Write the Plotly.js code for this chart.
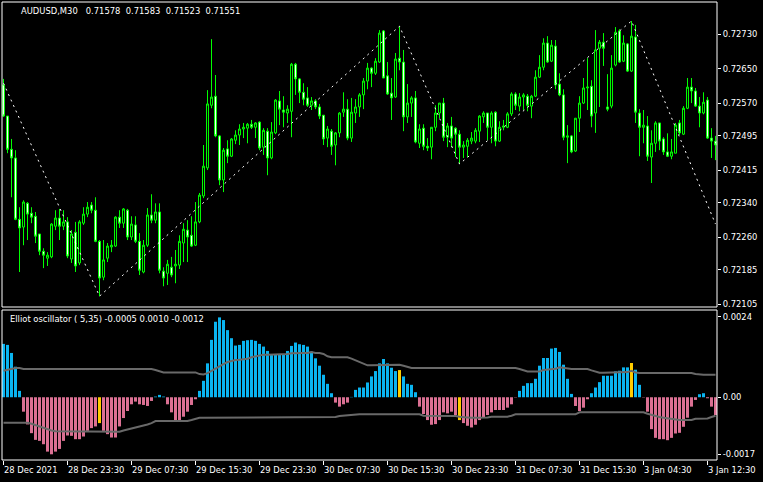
<!DOCTYPE html>
<html><head><meta charset="utf-8">
<script src="https://cdn.plot.ly/plotly-3.0.1.min.js"></script>
<style>html,body{margin:0;padding:0;background:#000;}#chart{width:763px;height:482px;}</style>
</head><body><div id="chart"></div>
<script>
// ---- data ----
const timeTickPos = [0,16,32,48,64,80,96,112,128,144,160,176];
const timeTickLabels = ["28 Dec 2021","28 Dec 23:30","29 Dec 07:30","29 Dec 15:30","29 Dec 23:30","30 Dec 07:30","30 Dec 15:30","30 Dec 23:30","31 Dec 07:30","31 Dec 15:30","3 Jan 04:30","3 Jan 12:30"];
const priceTicks = [0.72730,0.72650,0.72570,0.72495,0.72415,0.72340,0.72260,0.72185,0.72105];
const priceTickLabels = ["0.72730","0.72650","0.72570","0.72495","0.72415","0.72340","0.72260","0.72185","0.72105"];
const oscTicks = [0.0024,0,-0.0017];
const oscTickLabels = ["0.0024","0.00","-0.0017"];

const openP = [0.72613,0.72541,0.72464,0.72444,0.72302,0.72284,0.72339,0.72316,0.72309,0.72268,
0.72228,0.72212,0.72215,0.72286,0.72305,0.72286,0.72296,0.72210,0.72272,0.72201,
0.72293,0.72314,0.72335,0.72323,0.72251,0.72168,0.72212,0.72238,0.72240,0.72307,
0.72293,0.72323,0.72261,0.72289,0.72251,0.72180,0.72242,0.72312,0.72300,0.72319,
0.72182,0.72177,0.72191,0.72194,0.72196,0.72247,0.72277,0.72265,0.72242,0.72296,
0.72356,0.72421,0.72566,0.72587,0.72495,0.72393,0.72465,0.72448,0.72485,0.72497,
0.72511,0.72513,0.72522,0.72515,0.72527,0.72469,0.72506,0.72444,0.72502,0.72576,
0.72555,0.72548,0.72552,0.72661,0.72627,0.72596,0.72583,0.72566,0.72576,0.72562,
0.72543,0.72490,0.72506,0.72474,0.72502,0.72550,0.72557,0.72490,0.72548,0.72562,
0.72590,0.72622,0.72652,0.72640,0.72666,0.72738,0.72634,0.72594,0.72585,0.72675,
0.72666,0.72539,0.72571,0.72583,0.72478,0.72513,0.72471,0.72469,0.72515,0.72548,
0.72571,0.72492,0.72518,0.72513,0.72499,0.72469,0.72471,0.72483,0.72483,0.72506,
0.72539,0.72548,0.72515,0.72550,0.72483,0.72515,0.72515,0.72546,0.72592,0.72564,
0.72585,0.72587,0.72564,0.72587,0.72631,0.72654,0.72710,0.72668,0.72703,0.72615,
0.72590,0.72492,0.72495,0.72460,0.72536,0.72571,0.72606,0.72610,0.72548,0.72698,
0.72712,0.72562,0.72564,0.72659,0.72738,0.72668,0.72708,0.72645,0.72724,0.72548,
0.72515,0.72518,0.72446,0.72478,0.72525,0.72488,0.72458,0.72448,0.72455,0.72525,
0.72499,0.72559,0.72608,0.72599,0.72564,0.72548,0.72578,0.72490,0.72483];
const highP = [0.72627,0.72541,0.72488,0.72462,0.72330,0.72346,0.72342,0.72330,0.72319,0.72268,
0.72235,0.72226,0.72293,0.72323,0.72326,0.72323,0.72307,0.72277,0.72296,0.72300,
0.72330,0.72342,0.72342,0.72353,0.72254,0.72254,0.72247,0.72254,0.72309,0.72323,
0.72328,0.72326,0.72309,0.72309,0.72270,0.72254,0.72328,0.72360,0.72339,0.72339,
0.72191,0.72208,0.72215,0.72231,0.72265,0.72293,0.72300,0.72309,0.72342,0.72363,
0.72474,0.72601,0.72719,0.72636,0.72497,0.72467,0.72485,0.72490,0.72508,0.72522,
0.72525,0.72525,0.72532,0.72527,0.72529,0.72513,0.72513,0.72527,0.72580,0.72599,
0.72587,0.72566,0.72664,0.72664,0.72629,0.72617,0.72608,0.72585,0.72580,0.72569,
0.72543,0.72518,0.72511,0.72504,0.72550,0.72596,0.72580,0.72583,0.72580,0.72594,
0.72629,0.72664,0.72654,0.72675,0.72740,0.72740,0.72666,0.72629,0.72687,0.72749,
0.72694,0.72615,0.72587,0.72599,0.72522,0.72522,0.72490,0.72515,0.72566,0.72571,
0.72583,0.72525,0.72539,0.72515,0.72508,0.72483,0.72490,0.72504,0.72513,0.72543,
0.72552,0.72548,0.72552,0.72552,0.72529,0.72532,0.72550,0.72596,0.72596,0.72594,
0.72594,0.72592,0.72590,0.72647,0.72682,0.72721,0.72726,0.72717,0.72717,0.72640,
0.72603,0.72520,0.72497,0.72536,0.72587,0.72629,0.72675,0.72624,0.72740,0.72717,
0.72733,0.72638,0.72682,0.72747,0.72742,0.72728,0.72710,0.72761,0.72752,0.72557,
0.72555,0.72541,0.72508,0.72529,0.72525,0.72492,0.72501,0.72488,0.72525,0.72532,
0.72564,0.72629,0.72629,0.72606,0.72585,0.72596,0.72585,0.72513,0.72495];
const lowP = [0.72539,0.72455,0.72353,0.72300,0.72180,0.72242,0.72254,0.72293,0.72247,0.72219,
0.72189,0.72194,0.72212,0.72277,0.72254,0.72277,0.72212,0.72201,0.72180,0.72196,
0.72289,0.72307,0.72316,0.72249,0.72124,0.72161,0.72203,0.72226,0.72238,0.72282,
0.72282,0.72254,0.72254,0.72247,0.72173,0.72177,0.72238,0.72293,0.72293,0.72177,
0.72147,0.72150,0.72168,0.72154,0.72187,0.72203,0.72203,0.72238,0.72240,0.72293,
0.72351,0.72416,0.72559,0.72492,0.72381,0.72365,0.72432,0.72446,0.72476,0.72474,
0.72490,0.72478,0.72511,0.72490,0.72462,0.72451,0.72404,0.72441,0.72499,0.72520,
0.72515,0.72525,0.72492,0.72590,0.72571,0.72566,0.72562,0.72555,0.72557,0.72534,
0.72474,0.72469,0.72451,0.72427,0.72492,0.72539,0.72485,0.72481,0.72525,0.72539,
0.72557,0.72603,0.72608,0.72636,0.72664,0.72629,0.72590,0.72532,0.72583,0.72647,
0.72506,0.72525,0.72539,0.72478,0.72467,0.72462,0.72460,0.72441,0.72506,0.72536,
0.72483,0.72469,0.72469,0.72446,0.72430,0.72444,0.72446,0.72476,0.72478,0.72481,
0.72525,0.72485,0.72478,0.72471,0.72481,0.72508,0.72513,0.72541,0.72555,0.72552,
0.72555,0.72552,0.72536,0.72585,0.72629,0.72647,0.72664,0.72666,0.72603,0.72587,
0.72485,0.72432,0.72455,0.72458,0.72504,0.72569,0.72555,0.72515,0.72502,0.72562,
0.72657,0.72552,0.72559,0.72656,0.72664,0.72666,0.72643,0.72643,0.72525,0.72448,
0.72478,0.72437,0.72386,0.72458,0.72462,0.72451,0.72446,0.72441,0.72455,0.72497,
0.72497,0.72557,0.72571,0.72562,0.72515,0.72545,0.72488,0.72444,0.72439];
const closeP = [0.72541,0.72464,0.72444,0.72302,0.72282,0.72342,0.72314,0.72307,0.72263,0.72228,
0.72219,0.72219,0.72291,0.72305,0.72286,0.72296,0.72217,0.72268,0.72194,0.72296,
0.72314,0.72330,0.72323,0.72251,0.72166,0.72208,0.72240,0.72242,0.72307,0.72293,
0.72326,0.72261,0.72291,0.72251,0.72184,0.72242,0.72312,0.72300,0.72319,0.72184,
0.72166,0.72198,0.72173,0.72198,0.72251,0.72279,0.72261,0.72240,0.72296,0.72358,
0.72425,0.72569,0.72585,0.72495,0.72393,0.72462,0.72448,0.72488,0.72497,0.72511,
0.72515,0.72522,0.72515,0.72525,0.72467,0.72508,0.72444,0.72504,0.72578,0.72557,
0.72550,0.72557,0.72661,0.72627,0.72596,0.72580,0.72566,0.72576,0.72562,0.72541,
0.72488,0.72511,0.72471,0.72502,0.72548,0.72557,0.72490,0.72550,0.72562,0.72590,
0.72622,0.72652,0.72640,0.72668,0.72733,0.72629,0.72592,0.72583,0.72673,0.72666,
0.72539,0.72571,0.72583,0.72481,0.72511,0.72471,0.72467,0.72515,0.72548,0.72571,
0.72492,0.72518,0.72490,0.72499,0.72469,0.72474,0.72485,0.72490,0.72508,0.72541,
0.72548,0.72515,0.72548,0.72483,0.72515,0.72518,0.72546,0.72592,0.72566,0.72585,
0.72590,0.72566,0.72587,0.72631,0.72654,0.72710,0.72666,0.72705,0.72613,0.72590,
0.72492,0.72495,0.72458,0.72536,0.72571,0.72606,0.72608,0.72541,0.72694,0.72712,
0.72698,0.72557,0.72652,0.72735,0.72666,0.72710,0.72645,0.72726,0.72550,0.72515,
0.72520,0.72448,0.72478,0.72525,0.72483,0.72458,0.72448,0.72458,0.72520,0.72502,
0.72559,0.72608,0.72599,0.72564,0.72548,0.72573,0.72490,0.72483,0.72474];

const zigzagIdx = [0,24,99,114,157,178];
const zigzagVal = [0.72617,0.72124,0.72749,0.72430,0.72761,0.72291];

const oscVal = [0.00159,0.00156,0.00132,0.00091,0.00019,-0.00043,-0.00081,-0.00107,-0.00127,-0.00130,
-0.00140,-0.00162,-0.00170,-0.00162,-0.00154,-0.00130,-0.00114,-0.00115,-0.00125,-0.00125,
-0.00117,-0.00100,-0.00092,-0.00087,-0.00077,-0.00100,-0.00110,-0.00120,-0.00120,-0.00087,
-0.00062,-0.00041,-0.00021,-0.00013,-0.00021,-0.00023,-0.00026,-0.00011,0.00002,0.00007,
0.00002,-0.00021,-0.00045,-0.00068,-0.00068,-0.00058,-0.00043,-0.00023,-0.00006,0.00019,
0.00049,0.00101,0.00171,0.00225,0.00238,0.00230,0.00200,0.00176,0.00154,0.00156,
0.00168,0.00170,0.00171,0.00168,0.00159,0.00151,0.00138,0.00126,0.00126,0.00126,
0.00126,0.00138,0.00153,0.00163,0.00158,0.00156,0.00151,0.00136,0.00116,0.00094,
0.00067,0.00040,0.00012,-0.00016,-0.00028,-0.00021,-0.00016,0.00001,0.00022,0.00029,
0.00029,0.00044,0.00062,0.00078,0.00101,0.00114,0.00101,0.00088,0.00078,0.00081,
0.00062,0.00040,0.00037,0.00015,-0.00028,-0.00050,-0.00068,-0.00082,-0.00080,-0.00068,
-0.00045,-0.00048,-0.00043,-0.00053,-0.00068,-0.00077,-0.00085,-0.00090,-0.00082,-0.00068,
-0.00060,-0.00053,-0.00045,-0.00038,-0.00038,-0.00038,-0.00031,-0.00021,-0.00001,0.00019,
0.00034,0.00042,0.00042,0.00055,0.00094,0.00117,0.00117,0.00145,0.00147,0.00135,
0.00097,0.00055,0.00010,-0.00026,-0.00041,-0.00031,-0.00006,0.00012,0.00029,0.00045,
0.00064,0.00064,0.00064,0.00077,0.00079,0.00089,0.00089,0.00102,0.00082,0.00037,
-0.00001,-0.00043,-0.00095,-0.00121,-0.00125,-0.00125,-0.00128,-0.00121,-0.00108,-0.00106,
-0.00088,-0.00061,-0.00028,-0.00008,0.00009,0.00012,-0.00003,-0.00028,-0.00053];

const upperBand = [0.00079,0.00082,0.00085,0.00087,0.00087,0.00084,0.00084,0.00084,0.00084,0.00084,
0.00084,0.00084,0.00084,0.00084,0.00084,0.00084,0.00084,0.00084,0.00084,0.00084,
0.00084,0.00084,0.00084,0.00084,0.00084,0.00084,0.00084,0.00084,0.00084,0.00084,
0.00084,0.00084,0.00084,0.00084,0.00084,0.00084,0.00084,0.00084,0.00081,0.00077,
0.00074,0.00074,0.00074,0.00074,0.00074,0.00074,0.00074,0.00074,0.00074,0.00069,
0.00068,0.00072,0.00079,0.00087,0.00092,0.00099,0.00105,0.00109,0.00111,0.00112,
0.00113,0.00115,0.00119,0.00122,0.00125,0.00127,0.00127,0.00127,0.00127,0.00127,
0.00127,0.00129,0.00131,0.00132,0.00132,0.00132,0.00132,0.00135,0.00132,0.00132,
0.00129,0.00122,0.00119,0.00119,0.00119,0.00119,0.00119,0.00115,0.00110,0.00104,
0.00100,0.00095,0.00095,0.00095,0.00095,0.00095,0.00097,0.00097,0.00097,0.00097,
0.00094,0.00091,0.00087,0.00087,0.00087,0.00087,0.00087,0.00087,0.00087,0.00087,
0.00087,0.00087,0.00087,0.00087,0.00087,0.00087,0.00087,0.00087,0.00087,0.00087,
0.00087,0.00087,0.00087,0.00087,0.00087,0.00087,0.00087,0.00087,0.00087,0.00084,
0.00081,0.00077,0.00077,0.00077,0.00077,0.00081,0.00082,0.00084,0.00085,0.00089,
0.00087,0.00084,0.00084,0.00084,0.00084,0.00084,0.00084,0.00080,0.00077,0.00073,
0.00073,0.00073,0.00073,0.00073,0.00073,0.00073,0.00075,0.00079,0.00074,0.00072,
0.00072,0.00072,0.00072,0.00072,0.00072,0.00072,0.00072,0.00072,0.00072,0.00072,
0.00072,0.00072,0.00072,0.00069,0.00067,0.00067,0.00067,0.00067,0.00067];

const lowerBand = [-0.00076,-0.00076,-0.00076,-0.00076,-0.00076,-0.00076,-0.00076,-0.00079,-0.00083,-0.00088,
-0.00093,-0.00096,-0.00099,-0.00101,-0.00101,-0.00101,-0.00101,-0.00103,-0.00103,-0.00103,
-0.00103,-0.00103,-0.00103,-0.00103,-0.00103,-0.00101,-0.00101,-0.00101,-0.00101,-0.00103,
-0.00099,-0.00096,-0.00093,-0.00091,-0.00089,-0.00085,-0.00081,-0.00077,-0.00071,-0.00071,
-0.00071,-0.00071,-0.00071,-0.00071,-0.00071,-0.00071,-0.00071,-0.00068,-0.00064,-0.00061,
-0.00061,-0.00061,-0.00061,-0.00061,-0.00061,-0.00061,-0.00061,-0.00061,-0.00061,-0.00061,
-0.00061,-0.00061,-0.00061,-0.00061,-0.00061,-0.00061,-0.00061,-0.00061,-0.00061,-0.00061,
-0.00061,-0.00061,-0.00061,-0.00061,-0.00061,-0.00061,-0.00061,-0.00061,-0.00061,-0.00061,
-0.00061,-0.00061,-0.00061,-0.00059,-0.00056,-0.00055,-0.00053,-0.00051,-0.00051,-0.00051,
-0.00051,-0.00051,-0.00051,-0.00051,-0.00051,-0.00051,-0.00051,-0.00051,-0.00051,-0.00051,
-0.00051,-0.00051,-0.00051,-0.00051,-0.00051,-0.00055,-0.00055,-0.00055,-0.00055,-0.00055,
-0.00055,-0.00055,-0.00055,-0.00056,-0.00058,-0.00058,-0.00060,-0.00061,-0.00061,-0.00061,
-0.00061,-0.00060,-0.00058,-0.00058,-0.00058,-0.00058,-0.00058,-0.00055,-0.00051,-0.00051,
-0.00051,-0.00051,-0.00051,-0.00051,-0.00051,-0.00051,-0.00051,-0.00051,-0.00051,-0.00051,
-0.00051,-0.00051,-0.00051,-0.00051,-0.00045,-0.00045,-0.00045,-0.00045,-0.00045,-0.00045,
-0.00045,-0.00045,-0.00045,-0.00045,-0.00045,-0.00045,-0.00045,-0.00045,-0.00045,-0.00045,
-0.00045,-0.00049,-0.00053,-0.00056,-0.00059,-0.00061,-0.00063,-0.00065,-0.00066,-0.00068,
-0.00068,-0.00068,-0.00068,-0.00064,-0.00063,-0.00063,-0.00063,-0.00059,-0.00055];

const headerText = "AUDUSD,M30\u00a0\u00a0 0.71578\u00a0 0.71583\u00a0 0.71523\u00a0 0.71551";
const oscHeaderText = "Elliot oscillator ( 5,35) -0.0005 0.0010 -0.0012";

// ---- drawing ----
const idx = openP.map((_, i) => i);
const FONT = 'DejaVu Sans, sans-serif';
const FS = 8.4;
const oscColors = oscVal.map((v, i) => zigzagIdx.slice(1, -1).includes(i) ? '#FFCC00' : (v >= 0 ? '#0AB4F0' : '#DB7093'));

const traces = [
  {type:'candlestick', x: idx, open: openP, high: highP, low: lowP, close: closeP,
   xaxis:'x', yaxis:'y', whiskerwidth:0, hoverinfo:'skip',
   increasing:{line:{color:'#00FF00', width:1}, fillcolor:'#000000'},
   decreasing:{line:{color:'#00FF00', width:1}, fillcolor:'#FFFFFF'}},
  {type:'scatter', mode:'lines', x: zigzagIdx, y: zigzagVal, xaxis:'x', yaxis:'y',
   line:{color:'#FFFFFF', width:1, dash:'2px,4px'}, hoverinfo:'skip'},
  {type:'bar', x: idx, y: oscVal, xaxis:'x', yaxis:'y2', marker:{color: oscColors, line:{width:0}}, hoverinfo:'skip'},
  {type:'scatter', mode:'lines', x: idx, y: upperBand, xaxis:'x', yaxis:'y2', line:{color:'#696969', width:2}, hoverinfo:'skip'},
  {type:'scatter', mode:'lines', x: idx, y: lowerBand, xaxis:'x', yaxis:'y2', line:{color:'#696969', width:2}, hoverinfo:'skip'}
];

const annotations = [
  {xref:'paper', yref:'paper', x:0.0238, y:0.980, xanchor:'left', yanchor:'middle', text: headerText, showarrow:false, font:{family:FONT, size:FS, color:'#FFFFFF'}},
  {xref:'paper', yref:'paper', x:0.0084, y:0.3079, xanchor:'left', yanchor:'middle', text: oscHeaderText, showarrow:false, font:{family:FONT, size:FS, color:'#FFFFFF'}}
];
timeTickPos.forEach((p, k) => annotations.push({
  xref:'x', yref:'paper', x: p, y: -0.0218, xanchor:'left', yanchor:'middle', xshift:-2,
  text: timeTickLabels[k], showarrow:false, font:{family:FONT, size:FS, color:'#FFFFFF'}
}));

const axisCommon = {showgrid:false, zeroline:false, showline:false, fixedrange:true,
  ticks:'outside', tickcolor:'#FFFFFF', tickfont:{family:FONT, size:FS, color:'#FFFFFF'}};

const layout = {
  width:763, height:482,
  margin:{l:2, r:46, t:2, b:22, pad:0},
  paper_bgcolor:'#000000', plot_bgcolor:'#000000',
  showlegend:false, bargap:0.25, hovermode:false,
  font:{family:FONT, size:FS, color:'#FFFFFF'},
  xaxis: Object.assign({}, axisCommon, {range:[-0.375, 178.375], anchor:'y2', tickvals: timeTickPos,
    showticklabels:false, ticklen:4, rangeslider:{visible:false}}),
  yaxis: Object.assign({}, axisCommon, {domain:[0.33406, 1], range:[0.72099, 0.72805], side:'right', anchor:'x',
    tickvals: priceTicks, ticktext: priceTickLabels, ticklen:3}),
  yaxis2: Object.assign({}, axisCommon, {domain:[0, 0.32751], range:[-0.00187, 0.0026], side:'right', anchor:'x',
    tickvals: oscTicks, ticktext: oscTickLabels, ticklen:3}),
  shapes:[
    {type:'rect', xref:'paper', yref:'paper', x0:0, x1:1, y0:0.33406, y1:1, line:{color:'#FFFFFF', width:1}, fillcolor:'rgba(0,0,0,0)', layer:'above'},
    {type:'rect', xref:'paper', yref:'paper', x0:0, x1:1, y0:0, y1:0.32751, line:{color:'#FFFFFF', width:1}, fillcolor:'rgba(0,0,0,0)', layer:'above'}
  ],
  annotations: annotations
};

Plotly.newPlot('chart', traces, layout, {displayModeBar:false, staticPlot:true});
</script></body></html>
